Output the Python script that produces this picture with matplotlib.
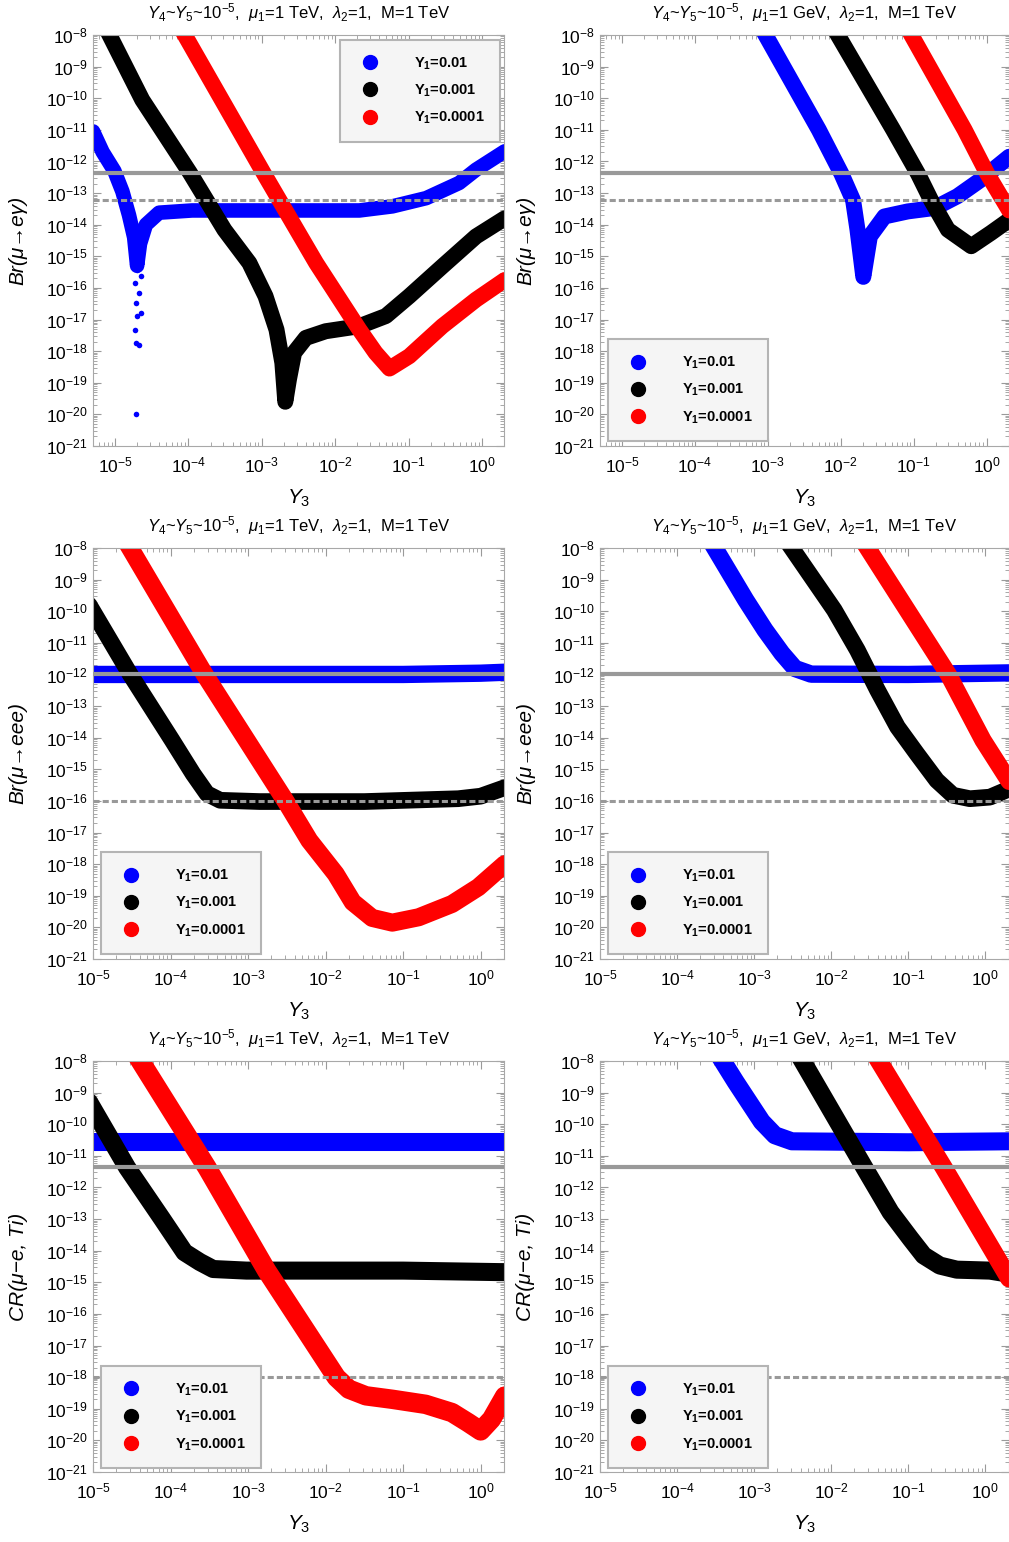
import numpy as np
import matplotlib
matplotlib.use("Agg")
import matplotlib.pyplot as plt
from matplotlib.lines import Line2D
from matplotlib.ticker import LogLocator, NullFormatter

plt.rcParams['font.family'] = ['Liberation Sans', 'DejaVu Sans']
plt.rcParams['mathtext.fontset'] = 'custom'
plt.rcParams['mathtext.rm'] = 'Liberation Sans'
plt.rcParams['mathtext.it'] = 'Liberation Sans:italic'
plt.rcParams['mathtext.bf'] = 'Liberation Sans:bold'

# all values are log10(Y3) and log10(observable)
# ---- row 1: Br(mu -> e gamma), mu1 = 1 TeV
meg_tev_blue_x = [-5.30, -5.17, -5.01, -4.90, -4.81, -4.74, -4.70, -4.66, -4.58, -4.40, -3.95, -1.67, -1.22, -0.76, -0.31, -0.08, 0.31]
meg_tev_blue_y = [-11.05, -11.7, -12.3, -12.95, -13.7, -14.4, -15.3, -14.6, -14.0, -13.62, -13.55, -13.55, -13.42, -13.16, -12.68, -12.26, -11.68]
meg_tev_dip_x = [-4.71, -4.67, -4.71, -4.73, -4.65, -4.70, -4.72, -4.67, -4.73, -4.65, -4.70]
meg_tev_dip_y = [-20.0, -17.79, -17.74, -17.32, -16.79, -16.89, -16.47, -16.16, -15.84, -15.63, -15.42]
meg_tev_black_x = [-5.12, -4.63, -3.98, -3.51, -3.17, -2.95, -2.80, -2.72, -2.68, -2.63, -2.56, -2.40, -2.13, -1.67, -1.31, -0.99, -0.54, -0.08, 0.31]
meg_tev_black_y = [-7.8, -10.05, -12.36, -14.16, -15.21, -16.26, -17.32, -18.37, -19.6, -18.89, -18.05, -17.58, -17.37, -17.21, -16.89, -16.26, -15.32, -14.37, -13.8]
meg_tev_red_x = [-4.10, -2.97, -2.26, -1.67, -1.45, -1.26, -0.99, -0.54, -0.08, 0.31]
meg_tev_red_y = [-7.8, -12.39, -15.21, -17.32, -18.05, -18.55, -18.16, -17.21, -16.37, -15.75]

# ---- row 1: Br(mu -> e gamma), mu1 = 1 GeV
meg_gev_blue_x = [-3.08, -2.30, -1.99, -1.83, -1.77, -1.69, -1.60, -1.40, -1.08, -0.71, -0.40, -0.08, 0.31]
meg_gev_blue_y = [-7.8, -11.0, -12.39, -13.23, -14.16, -15.65, -14.37, -13.74, -13.58, -13.47, -13.1, -12.58, -11.85]
meg_gev_black_x = [-2.09, -1.28, -0.94, -0.76, -0.53, -0.21, 0.06, 0.31]
meg_gev_black_y = [-7.8, -11.0, -12.39, -13.23, -14.16, -14.68, -14.26, -13.85]
meg_gev_red_x = [-1.08, -0.30, 0.01, 0.31]
meg_gev_red_y = [-7.8, -11.0, -12.39, -13.55]

# ---- row 2: Br(mu -> eee), mu1 = 1 TeV
m3e_tev_blue_x = [-5.05, -1.0, 0.0, 0.31]
m3e_tev_blue_y = [-12.0, -12.0, -11.96, -11.93]
m3e_tev_black_x = [-5.05, -4.52, -3.98, -3.71, -3.53, -3.36, -2.85, -1.5, -0.29, 0.0, 0.31]
m3e_tev_black_y = [-9.8, -12.0, -14.08, -15.14, -15.77, -15.98, -16.02, -16.02, -15.93, -15.85, -15.58]
m3e_tev_red_x = [-4.57, -3.56, -2.51, -2.21, -1.87, -1.65, -1.40, -1.14, -0.80, -0.37, -0.03, 0.31]
m3e_tev_red_y = [-7.8, -12.0, -16.03, -17.25, -18.31, -19.2, -19.7, -19.85, -19.68, -19.26, -18.73, -18.0]

# ---- row 2: Br(mu -> eee), mu1 = 1 GeV
m3e_gev_blue_x = [-3.56, -3.11, -2.86, -2.64, -2.47, -2.26, -1.0, 0.31]
m3e_gev_blue_y = [-7.8, -9.64, -10.59, -11.33, -11.81, -11.99, -12.0, -11.95]
m3e_gev_black_x = [-2.57, -1.96, -1.66, -1.40, -1.14, -0.89, -0.63, -0.42, -0.20, 0.06, 0.31]
m3e_gev_black_y = [-7.8, -9.96, -11.23, -12.49, -13.66, -14.5, -15.35, -15.82, -15.93, -15.88, -15.62]
m3e_gev_red_x = [-1.58, -0.48, -0.03, 0.31]
m3e_gev_red_y = [-7.8, -12.0, -14.08, -15.38]

# ---- row 3: CR(mu - e, Ti), mu1 = 1 TeV
cr_tev_blue_x = [-5.05, 0.31]
cr_tev_blue_y = [-10.57, -10.57]
cr_tev_black_x = [-5.05, -4.56, -4.11, -3.82, -3.62, -3.45, -3.02, -1.0, 0.31]
cr_tev_black_y = [-9.3, -11.37, -12.99, -14.05, -14.36, -14.58, -14.63, -14.63, -14.68]
cr_tev_red_x = [-4.44, -3.53, -2.76, -1.86, -1.70, -1.48, -1.14, -0.71, -0.37, -0.16, 0.0, 0.14, 0.31]
cr_tev_red_y = [-7.8, -11.37, -14.63, -18.01, -18.38, -18.59, -18.70, -18.86, -19.12, -19.44, -19.7, -19.33, -18.6]

# ---- row 3: CR(mu - e, Ti), mu1 = 1 GeV
cr_gev_blue_x = [-3.46, -3.24, -3.07, -2.90, -2.73, -2.51, -1.0, 0.31]
cr_gev_blue_y = [-7.8, -8.66, -9.29, -9.92, -10.35, -10.54, -10.57, -10.54]
cr_gev_black_x = [-2.42, -1.57, -1.23, -0.97, -0.80, -0.59, -0.37, 0.06, 0.31]
cr_gev_black_y = [-7.8, -11.37, -12.78, -13.62, -14.15, -14.47, -14.6, -14.63, -14.73]
cr_gev_red_x = [-1.43, -0.54, 0.31]
cr_gev_red_y = [-7.8, -11.37, -14.88]

# experimental limits (solid: current, dashed: future)
meg_limits = [4.2e-13, 6e-14]
m3e_limits = [1e-12, 1e-16]
cr_limits = [4.3e-12, 1e-18]

y1_labels = [r'Y$_{\mathbf{1}}$=0.01', r'Y$_{\mathbf{1}}$=0.001', r'Y$_{\mathbf{1}}$=0.0001']
colors = ['#0000ff', 'black', '#ff0000']
titles = [r'$Y_4$~$Y_5$~$10^{-5}$,  $\mu_1$=1 TeV,  $\lambda_2$=1,  M=1 TeV',
          r'$Y_4$~$Y_5$~$10^{-5}$,  $\mu_1$=1 GeV,  $\lambda_2$=1,  M=1 TeV']
ylabels = ['Br(μ→eγ)', 'Br(μ→eee)', 'CR(μ−e, Ti)']


def setup(ax, xmin, title, ylabel, limits):
    ax.set_xscale('log')
    ax.set_yscale('log')
    ax.set_xlim(xmin, 2)
    ax.set_ylim(1e-21, 1e-8)
    ax.yaxis.set_major_locator(LogLocator(base=10, numticks=30))
    ax.yaxis.set_minor_locator(LogLocator(base=10, subs=np.arange(2, 10), numticks=300))
    ax.yaxis.set_minor_formatter(NullFormatter())
    ax.xaxis.set_major_locator(LogLocator(base=10, numticks=30))
    ax.xaxis.set_minor_locator(LogLocator(base=10, subs=np.arange(2, 10), numticks=300))
    ax.xaxis.set_minor_formatter(NullFormatter())
    ax.tick_params(which='both', direction='in', top=True, right=True, color='#9a9a9a')
    ax.tick_params(which='major', length=6, width=0.8, labelsize=12.5, pad=4)
    ax.tick_params(axis='x', which='major', pad=7)
    ax.tick_params(which='minor', length=3, width=0.6)
    for s in ax.spines.values():
        s.set_color('#a8a8a8')
    ax.text(0.5, 1.055, title, transform=ax.transAxes, ha='center', va='center', fontsize=12)
    ax.set_xlabel(r'$Y_3$', fontsize=15)
    ax.xaxis.set_label_coords(0.5, -0.128)
    ax.xaxis.label.set_va('center')
    ax.set_ylabel(ylabel, fontsize=15, fontstyle='italic')
    ax.yaxis.set_label_coords(-0.182, 0.5)
    ax.yaxis.label.set_va('center')
    ax.axhline(limits[0], color='#999999', lw=3, zorder=4)
    ax.axhline(limits[1], color='#999999', lw=2.2, ls=(0, (2, 1)), zorder=4)


def band(ax, lx, ly, color, lw):
    ax.plot(10.0 ** np.array(lx), 10.0 ** np.array(ly), color=color, lw=lw,
            solid_capstyle='round', solid_joinstyle='round', zorder=2)


def legend(ax, loc, anchor):
    handles = [Line2D([0], [0], marker='o', ls='none', color=c, markersize=10) for c in colors]
    leg = ax.legend(handles, y1_labels, loc=loc, bbox_to_anchor=anchor, borderaxespad=0,
                    fancybox=False, framealpha=1, facecolor='#f5f5f5', edgecolor='#b4b4b4',
                    prop={'weight': 'bold', 'size': 10.5}, labelspacing=0.75,
                    handlelength=2.0, handletextpad=2.0, borderpad=1.05)
    leg.get_frame().set_linewidth(1.5)
    leg.set_zorder(5)


fig = plt.figure(figsize=(10.09, 15.42), dpi=100)
W, H = 1009.0, 1542.0
lefts = [93 / W, 600 / W]
widths = [411 / W, 408.5 / W]
tops = [35, 548, 1061]
hgt = 411

axs = [[fig.add_axes([lefts[c], 1 - (tops[r] + hgt) / H, widths[c], hgt / H]) for c in range(2)]
       for r in range(3)]

# row 1
ax = axs[0][0]
setup(ax, 5e-6, titles[0], ylabels[0], meg_limits)
band(ax, meg_tev_blue_x, meg_tev_blue_y, colors[0], 10.5)
ax.plot(10.0 ** np.array(meg_tev_dip_x), 10.0 ** np.array(meg_tev_dip_y), 'o', color=colors[0], ms=4, mew=0, zorder=2)
band(ax, meg_tev_black_x, meg_tev_black_y, colors[1], 11.5)
band(ax, meg_tev_red_x, meg_tev_red_y, colors[2], 11.5)
legend(ax, 'upper right', (0.99, 0.988))

ax = axs[0][1]
setup(ax, 5e-6, titles[1], ylabels[0], meg_limits)
band(ax, meg_gev_blue_x, meg_gev_blue_y, colors[0], 11.5)
band(ax, meg_gev_black_x, meg_gev_black_y, colors[1], 11.5)
band(ax, meg_gev_red_x, meg_gev_red_y, colors[2], 11.5)
legend(ax, 'lower left', (0.02, 0.012))

# row 2
ax = axs[1][0]
setup(ax, 1e-5, titles[0], ylabels[1], m3e_limits)
band(ax, m3e_tev_blue_x, m3e_tev_blue_y, colors[0], 12.5)
band(ax, m3e_tev_black_x, m3e_tev_black_y, colors[1], 12)
band(ax, m3e_tev_red_x, m3e_tev_red_y, colors[2], 13)
legend(ax, 'lower left', (0.02, 0.012))

ax = axs[1][1]
setup(ax, 1e-5, titles[1], ylabels[1], m3e_limits)
band(ax, m3e_gev_blue_x, m3e_gev_blue_y, colors[0], 12.5)
band(ax, m3e_gev_black_x, m3e_gev_black_y, colors[1], 12)
band(ax, m3e_gev_red_x, m3e_gev_red_y, colors[2], 12.5)
legend(ax, 'lower left', (0.02, 0.012))

# row 3
ax = axs[2][0]
setup(ax, 1e-5, titles[0], ylabels[2], cr_limits)
band(ax, cr_tev_blue_x, cr_tev_blue_y, colors[0], 13)
band(ax, cr_tev_black_x, cr_tev_black_y, colors[1], 13)
band(ax, cr_tev_red_x, cr_tev_red_y, colors[2], 14)
legend(ax, 'lower left', (0.02, 0.01))

ax = axs[2][1]
setup(ax, 1e-5, titles[1], ylabels[2], cr_limits)
band(ax, cr_gev_blue_x, cr_gev_blue_y, colors[0], 13)
band(ax, cr_gev_black_x, cr_gev_black_y, colors[1], 13)
band(ax, cr_gev_red_x, cr_gev_red_y, colors[2], 13)
legend(ax, 'lower left', (0.02, 0.01))

fig.savefig('out.png', dpi=100)
